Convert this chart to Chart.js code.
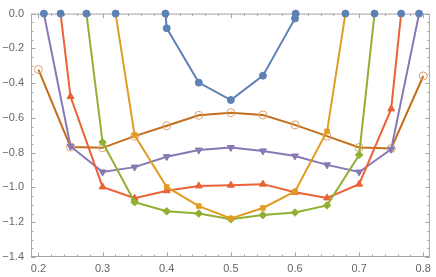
<!DOCTYPE html>
<html>
<head>
<meta charset="utf-8">
<script src="https://cdn.jsdelivr.net/npm/chart.js@4"></script>
<style>
html, body {margin:0; padding:0; background:#fff;}
</style>
</head>
<body>
<canvas id="chart" width="436" height="277"></canvas>
<script>
// DATA
const xTickValues = [0.2, 0.3, 0.4, 0.5, 0.6, 0.7, 0.8];
const yTickValues = [0, -0.2, -0.4, -0.6, -0.8, -1.0, -1.2, -1.4];

const blueX = [0.2085, 0.2345, 0.2748, 0.3203, 0.398, 0.4, 0.45, 0.5, 0.55, 0.6, 0.601, 0.6786, 0.724, 0.7655, 0.7935];
const blueY = [0, 0, 0, 0, 0, -0.084, -0.397, -0.497, -0.357, -0.028, 0, 0, 0, 0, 0];

const orangeX = [0.3203, 0.35, 0.4, 0.45, 0.5, 0.55, 0.6, 0.65, 0.6786];
const orangeY = [0, -0.70, -0.997, -1.107, -1.178, -1.118, -1.023, -0.677, 0];

const greenX = [0.2748, 0.3, 0.35, 0.4, 0.45, 0.5, 0.55, 0.6, 0.65, 0.7, 0.724];
const greenY = [0, -0.74, -1.085, -1.137, -1.15, -1.183, -1.159, -1.144, -1.103, -0.813, 0];

const redX = [0.2345, 0.25, 0.3, 0.35, 0.4, 0.45, 0.5, 0.55, 0.6, 0.65, 0.7, 0.75, 0.7655];
const redY = [0, -0.477, -0.997, -1.062, -1.019, -0.991, -0.987, -0.981, -1.028, -1.06, -0.981, -0.548, 0];

const purpleX = [0.2085, 0.25, 0.3, 0.35, 0.4, 0.45, 0.5, 0.55, 0.6, 0.65, 0.7, 0.75, 0.7935];
const purpleY = [0, -0.763, -0.911, -0.883, -0.823, -0.785, -0.77, -0.79, -0.819, -0.87, -0.911, -0.78, 0];

const brownX = [0.2, 0.25, 0.3, 0.35, 0.4, 0.45, 0.5, 0.55, 0.6, 0.65, 0.7, 0.75, 0.8];
const brownY = [-0.322, -0.767, -0.772, -0.705, -0.645, -0.585, -0.57, -0.583, -0.64, -0.705, -0.77, -0.776, -0.359];

function toPoints(xs, ys) {
	return xs.map((x, i) => ({x: x, y: ys[i]}));
}

// hide markers where a curve meets zero (the blue dots mark those)
function markerAtZeroHidden(r) {
	return ctx => (ctx.raw && ctx.raw.y === 0) ? 0 : r;
}

function series(xs, ys, color, style, radius, extra) {
	return Object.assign({
		data: toPoints(xs, ys),
		showLine: true,
		borderColor: color,
		backgroundColor: color,
		pointBackgroundColor: color,
		pointBorderColor: color,
		borderWidth: 2,
		pointBorderWidth: 1,
		pointStyle: style,
		pointRadius: markerAtZeroHidden(radius),
		pointHoverRadius: radius,
		clip: 6,
		tension: 0
	}, extra || {});
}

const framePlugin = {
	id: "frame",
	beforeDatasetsDraw(chart) {
		const {ctx, chartArea: a, scales} = chart;
		const xs = scales.x, ys = scales.y;
		ctx.save();
		ctx.strokeStyle = "#a6a6a6";
		ctx.lineWidth = 1;
		ctx.strokeRect(a.left + 0.5, a.top + 0.5, a.right - a.left - 1, a.bottom - a.top - 1);

		ctx.beginPath();
		// x ticks, bottom and top
		for (let i = 0; i <= 31; i++) {
			const v = 0.18 + i * 0.02;
			if (v < xs.min || v > xs.max) continue;
			const major = Math.abs(Math.round(v * 10) - v * 10) < 1e-6;
			const len = major ? 4.5 : 2.5;
			const px = Math.round(xs.getPixelForValue(v)) + 0.5;
			ctx.moveTo(px, a.bottom); ctx.lineTo(px, a.bottom - len);
			ctx.moveTo(px, a.top); ctx.lineTo(px, a.top + len);
		}
		// y ticks, left and right
		for (let i = 0; i <= 28; i++) {
			const v = -i * 0.05;
			const major = i % 4 === 0;
			const len = major ? 4.5 : 2.5;
			const py = Math.round(ys.getPixelForValue(v)) + 0.5;
			ctx.moveTo(a.left, py); ctx.lineTo(a.left + len, py);
			ctx.moveTo(a.right, py); ctx.lineTo(a.right - len, py);
		}
		ctx.stroke();
		ctx.restore();
	}
};

const tickFont = {family: "'Liberation Sans', Arial, sans-serif", size: 11};

new Chart(document.getElementById("chart"), {
	type: "scatter",
	data: {
		datasets: [
			series(blueX, blueY, "#5E81B5", "circle", 3.5, {
				pointRadius: 3.5,
				segment: {
					borderColor: ctx => (ctx.p0.parsed.y === 0 && ctx.p1.parsed.y === 0) ? "rgba(0,0,0,0)" : undefined
				}
			}),
			series(orangeX, orangeY, "#E19C24", "rect", 3.2),
			series(greenX, greenY, "#8FB032", "rectRot", 3.8),
			series(redX, redY, "#EB6235", "triangle", 4),
			series(purpleX, purpleY, "#8778B3", "triangle", 4, {pointRotation: 180}),
			series(brownX, brownY, "#C56E1A", "circle", 4, {
				pointBackgroundColor: "rgba(0,0,0,0)",
				pointBorderColor: "#E0A070",
				pointBorderWidth: 1
			})
		]
	},
	options: {
		responsive: false,
		animation: false,
		devicePixelRatio: 1,
		layout: {padding: {top: 8, right: 4.5, bottom: 0, left: 0}},
		plugins: {
			legend: {display: false},
			tooltip: {enabled: false}
		},
		scales: {
			x: {
				type: "linear",
				min: 0.1884,
				max: 0.8104,
				grid: {display: false, drawTicks: false},
				border: {display: false},
				ticks: {
					font: tickFont,
					color: "#666",
					padding: 5,
					maxRotation: 0,
					callback: v => v.toFixed(1)
				},
				afterBuildTicks: scale => { scale.ticks = xTickValues.map(v => ({value: v})); },
				afterFit: scale => { scale.height = 20; }
			},
			y: {
				type: "linear",
				min: -1.4,
				max: 0,
				grid: {display: false, drawTicks: false},
				border: {display: false},
				ticks: {
					font: tickFont,
					color: "#666",
					padding: 7,
					callback: v => v === 0 ? "0.0" : "\u2212" + Math.abs(v).toFixed(1)
				},
				afterBuildTicks: scale => { scale.ticks = yTickValues.map(v => ({value: v})); },
				afterFit: scale => { scale.width = 31; }
			}
		}
	},
	plugins: [framePlugin]
});
</script>
</body>
</html>
